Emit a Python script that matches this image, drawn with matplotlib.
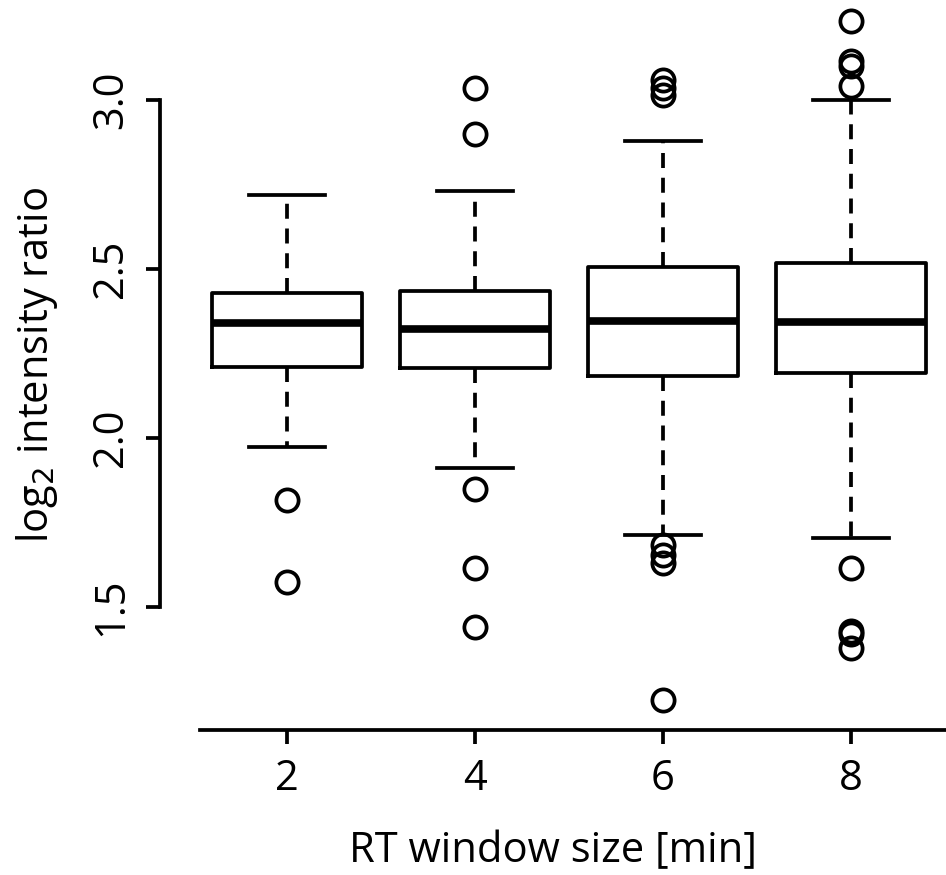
import numpy as np
import matplotlib.pyplot as plt

plt.rcParams['font.family'] = ['Open Sans', 'DejaVu Sans']

# RT window size [min]
windows = [2, 4, 6, 8]

# box statistics
whisker_lo = [1.973, 1.911, 1.713, 1.704]
q1 = [2.210, 2.207, 2.183, 2.192]
median = [2.340, 2.322, 2.346, 2.343]
q3 = [2.429, 2.435, 2.506, 2.518]
whisker_hi = [2.719, 2.731, 2.879, 3.000]

outliers = [
    [1.817, 1.574],
    [3.036, 2.899, 1.849, 1.615, 1.441],
    [3.059, 3.036, 3.015, 1.683, 1.654, 1.630, 1.225],
    [3.234, 3.116, 3.101, 3.041, 1.615, 1.429, 1.420, 1.379],
]

stats = []
for i in range(len(windows)):
    stats.append(dict(med=median[i], q1=q1[i], q3=q3[i],
                      whislo=whisker_lo[i], whishi=whisker_hi[i],
                      fliers=outliers[i]))

fig = plt.figure(figsize=(9.46, 8.75), dpi=100)
ax = fig.add_axes([160 / 946, 145 / 875, 786 / 946, 730 / 875])

lw = 2.7
ax.bxp(stats, positions=windows, widths=1.6, patch_artist=False,
       boxprops=dict(linewidth=lw, color='black'),
       medianprops=dict(linewidth=5.5, color='black', solid_capstyle='butt'),
       whiskerprops=dict(linewidth=lw, color='black', linestyle=(0, (4.0, 2.6))),
       capprops=dict(linewidth=lw, color='black'),
       capwidths=0.8,
       flierprops=dict(marker='o', markersize=16, markerfacecolor='none',
                       markeredgecolor='black', markeredgewidth=2.7))

ax.set_xlim(0.649, 9.01)
ax.set_ylim(1.136, 3.296)

for s in ['top', 'right']:
    ax.spines[s].set_visible(False)
ax.spines['left'].set_bounds(1.5, 3.0)
ax.spines['bottom'].set_bounds(1.074, 9.01)
ax.spines['left'].set_linewidth(lw)
ax.spines['bottom'].set_linewidth(lw)

ax.set_yticks([1.5, 2.0, 2.5, 3.0])
ax.set_yticklabels(['1.5', '2.0', '2.5', '3.0'], rotation=90, va='center')
ax.set_xticks(windows)
ax.set_xticklabels([str(w) for w in windows])
ax.tick_params(axis='both', labelsize=30, width=lw, length=10, pad=10)

ax.set_xlabel('RT window size [min]', fontsize=30, labelpad=22)
ax.set_ylabel('log$_2$ intensity ratio', fontsize=30, labelpad=22)

fig.savefig('out.png', dpi=100)
